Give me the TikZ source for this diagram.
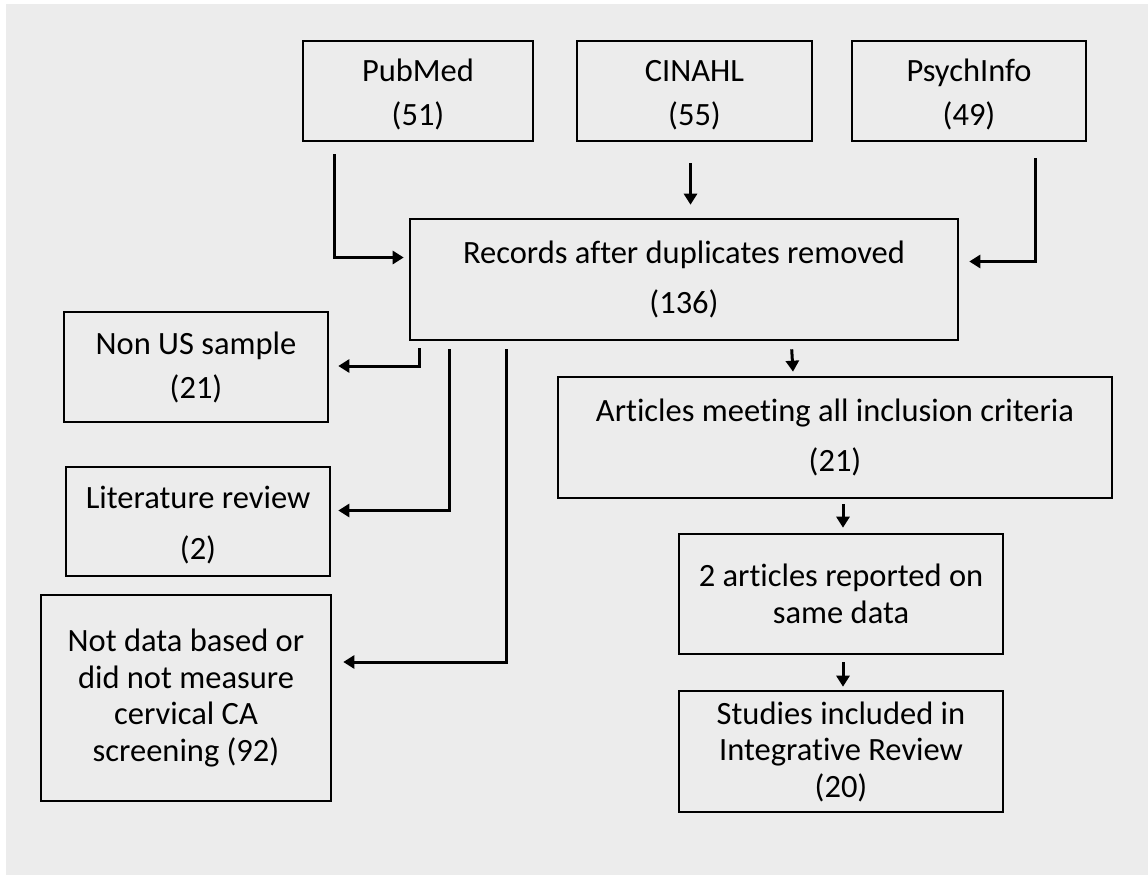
\documentclass[tikz,border=0pt]{standalone}
\usepackage{fontspec}
\setmainfont[Ligatures=NoCommon]{Carlito}
\usepackage{tikz}
\usetikzlibrary{arrows.meta}
\definecolor{bggray}{HTML}{ECECEC}
\newcommand{\lift}[1]{\rule{0pt}{#1}}

\begin{document}
\begin{tikzpicture}[x=1pt,y=-1pt,
		box/.style={draw,line width=2.6pt,inner sep=0pt,align=center,font=\fontsize{32.5}{36.5}\selectfont},
		arr/.style={line width=3pt,-{Triangle[length=11pt,width=13pt]}}]
		\useasboundingbox (0,0) rectangle (1148,875);
		\fill[bggray] (6,4) rectangle (1148,875);
		% sources
		\node[box,minimum width=230pt,minimum height=100pt] (pubmed) at (418,91) {\lift{29pt}PubMed\\[7.5pt](51)};
		\node[box,minimum width=235pt,minimum height=100pt] (cinahl) at (694.5,91) {\lift{29pt}CINAHL\\[7.5pt](55)};
		\node[box,minimum width=234pt,minimum height=100pt] (psych) at (969,91) {\lift{29pt}PsychInfo\\[7.5pt](49)};
		\node[box,minimum width=548pt,minimum height=121pt] (records) at (684,279.5) {Records after duplicates removed\\[13.5pt](136)};
		% exclusions
		\node[box,minimum width=264pt,minimum height=110pt] (nonus) at (196,367) {Non US sample\\[7.5pt](21)};
		\node[box,minimum width=264pt,minimum height=109pt] (litrev) at (198,521.5) {\lift{30pt}Literature review\\[14.5pt](2)};
		\node[box,minimum width=290pt,minimum height=206pt] (notdata) at (186,698) {Not data based or\\did not measure\\cervical CA\\screening (92)};
		% inclusions
		\node[box,minimum width=554pt,minimum height=121pt] (articles) at (835,437.5) {Articles meeting all inclusion criteria\\[13.5pt](21)};
		\node[box,minimum width=324pt,minimum height=120pt] (samedata) at (841,594) {2 articles reported on\\same data};
		\node[box,minimum width=324pt,minimum height=121pt] (studies) at (841,751.5) {Studies included in\\Integrative Review\\(20)};
		% connectors
		\draw[arr] ([xshift=33pt,yshift=-12pt]pubmed.south west) |- ([xshift=-5pt,yshift=22pt]records.west);
		\draw[arr] ([xshift=-4pt,yshift=-21pt]cinahl.south) -- ([xshift=-4pt,yshift=13pt]cinahl.south |- records.north);
		\draw[arr] ([xshift=185pt,yshift=-16pt]psych.south west) |- ([xshift=10pt,yshift=18pt]records.east);
		\draw[arr] ([xshift=11pt,yshift=-7pt]records.south west) |- ([xshift=9pt,yshift=1pt]nonus.east);
		\draw[arr] ([xshift=41pt,yshift=-8pt]records.south west) |- ([xshift=7pt,yshift=11pt]litrev.east);
		\draw[arr] ([xshift=98pt,yshift=-8pt]records.south west) |- ([xshift=11pt,yshift=36pt]notdata.east);
		\draw[arr] ([xshift=383pt,yshift=-8pt]records.south west) -- ([xshift=-42pt,yshift=4pt]articles.north);
		\draw[arr] ([xshift=2pt,yshift=-5pt]articles.south -| samedata.north) -- ([xshift=2pt,yshift=5pt]samedata.north);
		\draw[arr] ([xshift=2pt,yshift=-7pt]samedata.south) -- ([xshift=2pt,yshift=3pt]studies.north);
\end{tikzpicture}
\end{document}
